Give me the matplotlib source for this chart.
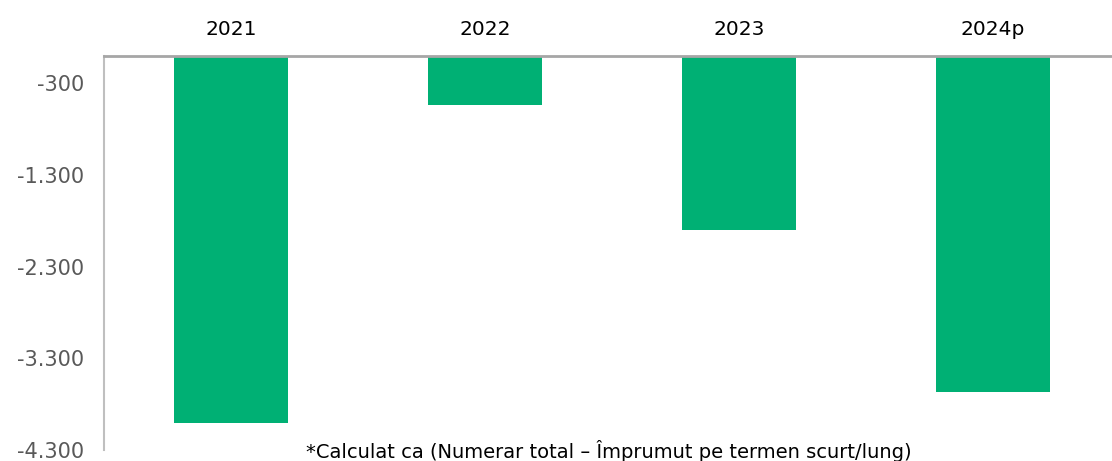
import matplotlib.pyplot as plt
from matplotlib.ticker import FuncFormatter

years = ["2021", "2022", "2023", "2024p"]
values = [-4000, -540, -1900, -3670]
yticks = [-300, -1300, -2300, -3300, -4300]
note = "*Calculat ca (Numerar total – Împrumut pe termen scurt/lung)"


def ro_fmt(v, pos):
    return f"{v:,.0f}".replace(",", ".")


fig = plt.figure(figsize=(11.12, 4.61), dpi=100)
ax = fig.add_axes([104 / 1112, 11 / 461, 1016 / 1112, 394 / 461])

x = range(len(years))
ax.bar(x, values, width=0.445, color="#00B074")

ax.set_xlim(-0.5, len(years) - 0.5)
ax.set_ylim(-4300, 0)
ax.set_yticks(yticks)
ax.yaxis.set_major_formatter(FuncFormatter(ro_fmt))

ax.xaxis.tick_top()
ax.set_xticks(list(x))
ax.set_xticklabels(years)
ax.tick_params(axis="x", length=0, pad=12, labelsize=14.5, labelcolor="black")
ax.tick_params(axis="y", length=0, pad=14, labelsize=15, labelcolor="#595959")

for side in ["right", "bottom"]:
    ax.spines[side].set_visible(False)
ax.spines["top"].set_color("#A6A6A6")
ax.spines["top"].set_linewidth(2)
ax.spines["left"].set_color("#BFBFBF")
ax.spines["left"].set_linewidth(1.5)

fig.text(609 / 1112, 10 / 461, note, ha="center", va="center", fontsize=14)

fig.savefig("out.png", dpi=100)
